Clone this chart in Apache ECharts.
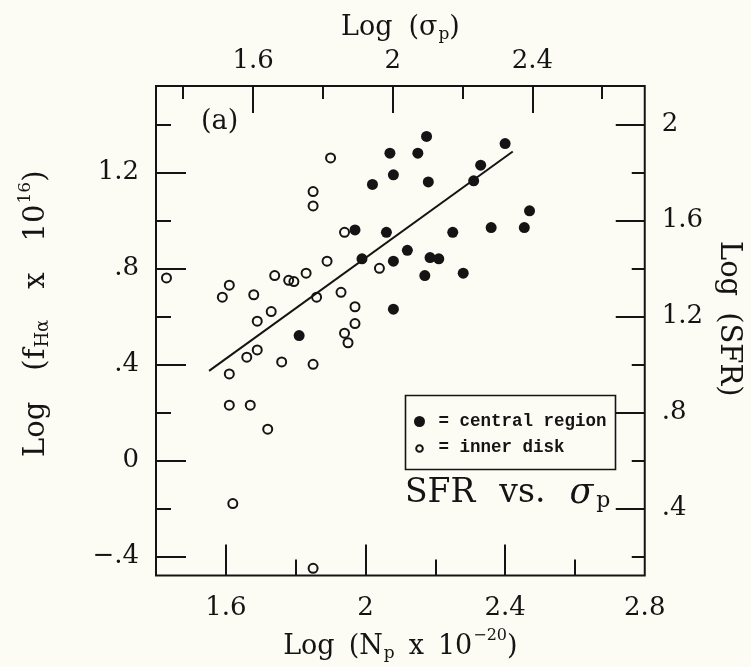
<!DOCTYPE html>
<html><head><meta charset="utf-8">
<script src="https://cdn.jsdelivr.net/npm/echarts@6/dist/echarts.min.js"></script>
<style>html,body{margin:0;padding:0;background:#fcfcf5}#c{width:751px;height:667px}</style>
</head><body><div id="c"></div><script>
// ---- data ----
const innerX = [1.43, 1.59, 1.61, 1.68, 1.74, 1.78, 1.795, 1.83, 1.89, 1.90, 1.85, 1.85, 1.94, 1.86, 1.93, 1.97, 1.97, 1.94, 1.95, 2.04, 1.73, 1.69, 1.69, 1.66, 1.76, 1.85, 1.61, 1.61, 1.67, 1.72, 1.62, 1.85];
const innerY = [0.76, 0.68, 0.73, 0.69, 0.77, 0.75, 0.745, 0.78, 0.83, 1.26, 1.12, 1.06, 0.95, 0.68, 0.70, 0.64, 0.57, 0.53, 0.49, 0.80, 0.62, 0.58, 0.46, 0.43, 0.41, 0.40, 0.36, 0.23, 0.23, 0.13, -0.18, -0.45];
const centralX = [1.97, 1.81, 1.99, 2.02, 2.07, 2.08, 2.06, 2.08, 2.08, 2.12, 2.15, 2.175, 2.18, 2.17, 2.185, 2.21, 2.25, 2.28, 2.31, 2.33, 2.36, 2.40, 2.455, 2.47];
const centralY = [0.96, 0.52, 0.84, 1.15, 1.28, 1.19, 0.95, 0.83, 0.63, 0.875, 1.28, 1.35, 1.16, 0.77, 0.845, 0.84, 0.95, 0.78, 1.165, 1.23, 0.97, 1.32, 0.97, 1.04];
const fitX = [1.552, 2.422];
const fitY = [0.373, 1.287];

const xRange = [1.4, 2.8];
const yRange = [-0.48, 1.56];
const sigmaOffset = 0.078;   // Log(sigma_p) = Log(N_p x 1e-20) - offset
const sfrOffset = 0.6;       // Log(SFR) = Log(f_Ha x 1e16) + offset

const bottomMajor = [1.6, 2.0, 2.4];
const bottomMinor = [1.8, 2.2, 2.6];
const bottomLabels = [1.6, 2.0, 2.4, 2.8];
const topMajor = [1.6, 2.0, 2.4];
const topMinor = [1.4, 1.8, 2.2, 2.6];
const leftMajor = [-0.4, 0, 0.4, 0.8, 1.2];
const leftMinor = [-0.2, 0.2, 0.6, 1.0, 1.4];
const rightMajor = [0.4, 0.8, 1.2, 1.6, 2.0];
const rightMinor = [0.2, 0.6, 1.0, 1.4, 1.8];

// ---- chart ----
const INK = '#141414';
const SERIF = 'DejaVu Serif';
function fmt(v) {
  v = Math.round(v * 10) / 10;
  if (v === 0) return '0';
  let s = String(Math.abs(v));
  if (Math.abs(v) < 1) s = s.replace(/^0/, '');
  return (v < 0 ? '\u2212' : '') + s;
}
function tickStyle(len, values) {
  return { show: true, inside: true, length: len, customValues: values, lineStyle: { color: INK, width: 2 } };
}
const base = { axisLine: { show: false, onZero: false }, splitLine: { show: false } };
function richSet(size, gap) {
  return {
    a: { fontFamily: SERIF, fontSize: size, color: INK },
    g: { fontFamily: SERIF, fontSize: size, color: INK, padding: [0, 0, 0, gap] },
    sub: { fontFamily: SERIF, fontSize: Math.round(size * 0.62), color: INK, padding: [14, 0, 0, 1] },
    sup: { fontFamily: SERIF, fontSize: Math.round(size * 0.6), color: INK, padding: [0, 0, 22, 1] }
  };
}
const zipData = (xs, ys) => xs.map((x, i) => [x, ys[i]]);

const chart = echarts.init(document.getElementById('c'), null, { renderer: 'canvas' });
chart.setOption({
  backgroundColor: '#fcfcf5',
  animation: false,
  grid: { left: 156, right: 103, top: 86, bottom: 90, show: true, borderColor: INK, borderWidth: 2, backgroundColor: 'transparent' },
  xAxis: [
    Object.assign({}, base, {
      type: 'value', position: 'bottom', min: xRange[0], max: xRange[1],
      axisTick: tickStyle(31, bottomMajor),
      axisLabel: { customValues: bottomLabels, formatter: fmt, margin: 20, fontFamily: SERIF, fontSize: 26, color: INK },
      name: '{a|Log}{g|(N}{sub|p}{g|x}{g|10}{sup|\u221220}{a|)}', nameLocation: 'middle', nameGap: 52,
      nameTextStyle: { rich: richSet(27, 14) }
    }),
    Object.assign({}, base, {
      type: 'value', position: 'bottom', min: xRange[0], max: xRange[1],
      axisTick: tickStyle(16, bottomMinor), axisLabel: { show: false }
    }),
    Object.assign({}, base, {
      type: 'value', position: 'top', min: xRange[0] - sigmaOffset, max: xRange[1] - sigmaOffset,
      axisTick: tickStyle(27, topMajor),
      axisLabel: { customValues: topMajor, formatter: fmt, margin: 12, fontFamily: SERIF, fontSize: 26, color: INK },
      name: '{a|Log}{g|(\u03c3}{sub|p}{a|)}', nameLocation: 'middle', nameGap: 43,
      nameTextStyle: { rich: richSet(27, 16) }
    }),
    Object.assign({}, base, {
      type: 'value', position: 'top', min: xRange[0] - sigmaOffset, max: xRange[1] - sigmaOffset,
      axisTick: tickStyle(13, topMinor), axisLabel: { show: false }
    })
  ],
  yAxis: [
    Object.assign({}, base, {
      type: 'value', position: 'left', min: yRange[0], max: yRange[1],
      axisTick: tickStyle(30, leftMajor),
      axisLabel: { customValues: leftMajor, formatter: fmt, margin: 17, fontFamily: SERIF, fontSize: 26, color: INK },
      name: '{a|Log}{g|(f}{sub|H\u03b1}{g|x}{g|10}{sup|16}{a|)}', nameLocation: 'middle', nameGap: 100,
      nameTextStyle: { rich: richSet(29, 31), padding: [0, 0, 0, 34] }
    }),
    Object.assign({}, base, {
      type: 'value', position: 'left', min: yRange[0], max: yRange[1],
      axisTick: tickStyle(15, leftMinor), axisLabel: { show: false }
    }),
    Object.assign({}, base, {
      type: 'value', position: 'right', min: yRange[0] + sfrOffset, max: yRange[1] + sfrOffset,
      axisTick: tickStyle(29, rightMajor),
      axisLabel: { customValues: rightMajor, formatter: fmt, margin: 17, fontFamily: SERIF, fontSize: 26, color: INK },
      name: '{a|Log}{g|(SFR)}', nameLocation: 'middle', nameGap: 63, nameRotate: -90,
      nameTextStyle: { rich: richSet(29, 16), padding: [0, 24, 0, 0] }
    }),
    Object.assign({}, base, {
      type: 'value', position: 'right', min: yRange[0] + sfrOffset, max: yRange[1] + sfrOffset,
      axisTick: tickStyle(13, rightMinor), axisLabel: { show: false }
    })
  ],
  series: [
    { name: 'fit', type: 'line', data: zipData(fitX, fitY), symbol: 'none', lineStyle: { color: INK, width: 2 }, z: 1, silent: true },
    { name: 'central region', type: 'scatter', data: zipData(centralX, centralY), symbol: 'circle', symbolSize: 11,
      itemStyle: { color: INK, opacity: 1 }, z: 3 },
    { name: 'inner disk', type: 'scatter', data: zipData(innerX, innerY), symbol: 'circle', symbolSize: 9,
      itemStyle: { color: 'rgba(0,0,0,0)', borderColor: INK, borderWidth: 2, opacity: 1 }, z: 4 }
  ],
  graphic: [
    { type: 'text', left: 201, top: 108, style: { text: '(a)', font: '27px "DejaVu Serif"', fill: INK } },
    { type: 'text', left: 405, top: 476, style: {
        text: '{a|SFR}{v|vs.}{s|\u03c3}{sub|p}',
        rich: {
          a: { fontFamily: SERIF, fontSize: 33, fill: INK },
          v: { fontFamily: SERIF, fontSize: 33, fill: INK, padding: [0, 0, 0, 24] },
          s: { fontFamily: SERIF, fontSize: 35, fontStyle: 'italic', fill: INK, padding: [0, 0, 0, 24] },
          sub: { fontFamily: SERIF, fontSize: 22, fill: INK, padding: [16, 0, 0, 3] }
        } } },
    { type: 'group', left: 403, top: 393, children: [
      { type: 'rect', shape: { x: 0, y: 0, width: 210, height: 74 }, style: { fill: 'none', stroke: INK, lineWidth: 1.6 } },
      { type: 'circle', shape: { cx: 14, cy: 26, r: 5.5 }, style: { fill: INK } },
      { type: 'text', x: 33, y: 26, style: { text: '= central region', font: 'bold 17.5px "Liberation Mono"', fill: INK, verticalAlign: 'middle' } },
      { type: 'circle', shape: { cx: 14, cy: 53, r: 3.3 }, style: { fill: 'none', stroke: INK, lineWidth: 2 } },
      { type: 'text', x: 33, y: 52, style: { text: '= inner disk', font: 'bold 17.5px "Liberation Mono"', fill: INK, verticalAlign: 'middle' } }
    ] }
  ]
});
</script></body></html>
